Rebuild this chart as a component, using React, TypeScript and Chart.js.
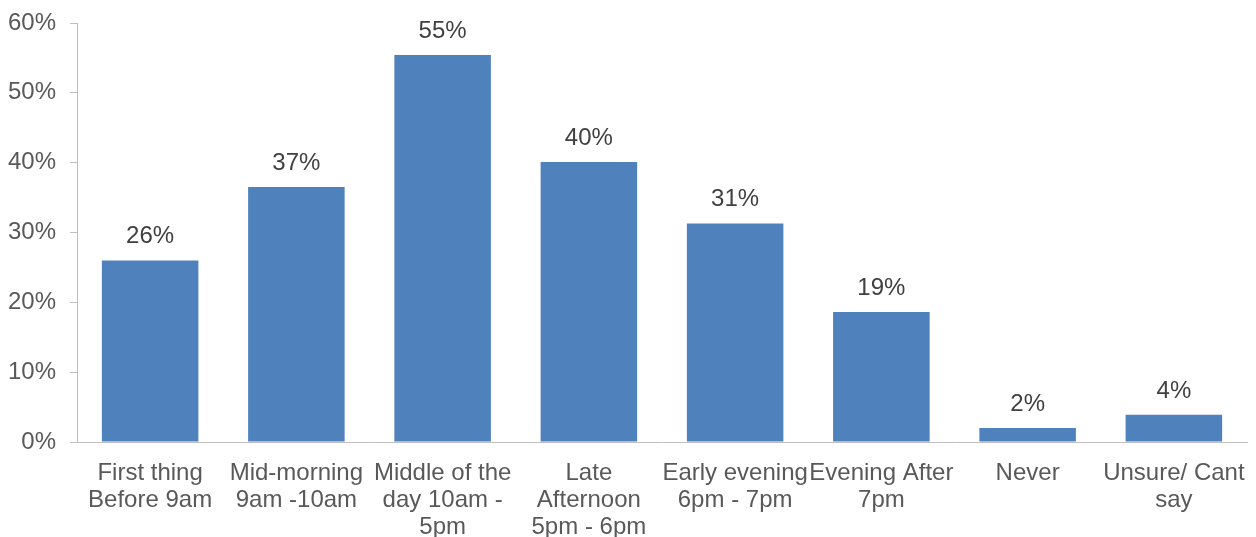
import React, { useEffect, useRef } from "react";
import { Chart, registerables } from "chart.js";

Chart.register(...registerables);

const categories: string[][] = [
  ["First thing", "Before 9am"],
  ["Mid-morning", "9am -10am"],
  ["Middle of the", "day 10am -", "5pm"],
  ["Late", "Afternoon", "5pm - 6pm"],
  ["Early evening", "6pm - 7pm"],
  ["Evening After", "7pm"],
  ["Never"],
  ["Unsure/ Cant", "say"],
];
const values: number[] = [26, 36.5, 55.4, 40.1, 31.3, 18.6, 2.0, 3.9];
const valueLabels: string[] = ["26%", "37%", "55%", "40%", "31%", "19%", "2%", "4%"];

const FONT = "'Liberation Sans', Arial, sans-serif";

const dataLabelPlugin = {
  id: "dataLabels",
  afterDatasetsDraw(chart: any) {
    const ctx = chart.ctx;
    const meta = chart.getDatasetMeta(0);
    ctx.save();
    ctx.font = `24px ${FONT}`;
    ctx.fillStyle = "#404040";
    ctx.textAlign = "center";
    ctx.textBaseline = "alphabetic";
    meta.data.forEach((bar: any, i: number) => {
      ctx.fillText(valueLabels[i], bar.x, bar.y - 17);
    });
    ctx.restore();
  },
};

export default function App() {
  const ref = useRef<HTMLCanvasElement | null>(null);
  useEffect(() => {
    document.body.style.margin = "0";
    if (!ref.current) return;
    const chart = new Chart(ref.current, {
      type: "bar",
      data: {
        labels: categories,
        datasets: [
          {
            data: values,
            backgroundColor: "#4F81BD",
            borderWidth: 0,
            barPercentage: 0.66,
            categoryPercentage: 1,
          },
        ],
      },
      options: {
        animation: false,
        responsive: false,
        maintainAspectRatio: false,
        layout: { padding: { top: 23, right: 9, left: 0, bottom: 0 } },
        plugins: { legend: { display: false }, tooltip: { enabled: false } },
        scales: {
          x: {
            grid: { display: false },
            border: { display: true, color: "#BFBFBF", width: 1 },
            ticks: {
              color: "#595959",
              font: { family: FONT, size: 24, lineHeight: 1.13 },
              padding: 10,
              maxRotation: 0,
              autoSkip: false,
            },
            afterFit(scale: any) {
              scale.height = 95;
              scale.paddingLeft = 0;
              scale.paddingRight = 0;
            },
          },
          y: {
            min: 0,
            max: 60,
            grid: {
              drawOnChartArea: false,
              drawTicks: true,
              tickLength: 7,
              color: "#BFBFBF",
            },
            border: { display: true, color: "#BFBFBF", width: 1 },
            ticks: {
              stepSize: 10,
              color: "#595959",
              font: { family: FONT, size: 24 },
              padding: 14,
              callback: (v: any) => `${v}%`,
            },
            afterFit(scale: any) {
              scale.width = 77;
              scale.paddingTop = 0;
              scale.paddingBottom = 0;
            },
          },
        },
      },
      plugins: [dataLabelPlugin],
    });
    return () => chart.destroy();
  }, []);
  return (
    <div style={{ width: 1256, height: 537 }}>
      <canvas ref={ref} width={1256} height={537} style={{ display: "block" }} />
    </div>
  );
}
